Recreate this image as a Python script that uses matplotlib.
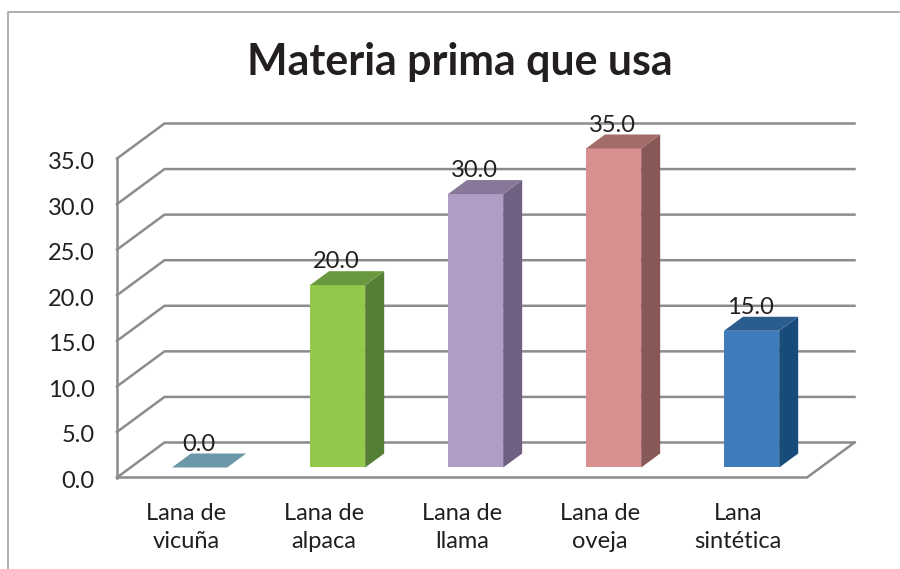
import matplotlib
matplotlib.use("Agg")
import matplotlib.pyplot as plt
from matplotlib.patches import Polygon
from matplotlib.lines import Line2D
from matplotlib.transforms import ScaledTranslation

categories = ["Lana de\nvicuña", "Lana de\nalpaca", "Lana de\nllama", "Lana de\noveja", "Lana\nsintética"]
values = [0.0, 20.0, 30.0, 35.0, 15.0]
y_ticks = [0, 5, 10, 15, 20, 25, 30, 35]
title = "Materia prima que usa"
front_colors = ["#6A98A8", "#92C94A", "#B09CC4", "#D88F90", "#3F7CBB"]
side_colors = ["#567C88", "#567F36", "#6F5F80", "#885856", "#184A7A"]
top_colors = ["#6A98A8", "#6A983E", "#887799", "#A26C68", "#2A5C90"]

W, H = 900, 569
plt.rcParams["font.family"] = ["Lato", "DejaVu Sans"]
fig = plt.figure(figsize=(W / 100, H / 100), dpi=100)
fig.patch.set_facecolor("white")

# axes = front plane of the 3-D box (in pixels)
L, R, B, T = 117, 807, 477.5, 158.5
ax = fig.add_axes([L / W, 1 - B / H, (R - L) / W, (B - T) / H])
ax.set_xlim(0, len(categories))
ax.set_ylim(0, 35)
ax.patch.set_visible(False)
for s in ax.spines.values():
    s.set_visible(False)

# oblique depth vector, data units for depth = 1
DX = 47.5 / ((R - L) / len(categories))
DY = 35.0 / ((B - T) / 35.0)


def proj(x, y, d):
    return (x + DX * d, y + DY * d)


GRID = "#8C8C8C"
LW = 1.8
for v in y_ticks:
    x0, y0 = proj(0, v, 0)
    x1, y1 = proj(0, v, 1)
    x2, y2 = proj(len(categories), v, 1)
    ax.plot([x0, x1, x2], [y0, y1, y2], color=GRID, lw=LW, clip_on=False,
            solid_joinstyle="miter", zorder=1)
# wall front edge and floor front edge
ax.plot([0, 0], [0, 35], color=GRID, lw=LW, clip_on=False, zorder=1)
n = len(categories)
fx = [0, n, proj(n, 0, 1)[0]]
fy = [0, 0, proj(n, 0, 1)[1]]
ax.plot(fx, fy, color=GRID, lw=LW, clip_on=False, zorder=1, solid_joinstyle="miter")

BAR_W = 0.4
D0, D1 = 0.286, 0.686
for i, v in enumerate(values):
    c = i + 0.5
    xl, xr = c - BAR_W / 2, c + BAR_W / 2
    if v > 0:
        front = [proj(xl, 0, D0), proj(xr, 0, D0), proj(xr, v, D0), proj(xl, v, D0)]
        side = [proj(xr, 0, D0), proj(xr, 0, D1), proj(xr, v, D1), proj(xr, v, D0)]
        ax.add_patch(Polygon(side, closed=True, fc=side_colors[i], ec="none", clip_on=False, zorder=3))
        ax.add_patch(Polygon(front, closed=True, fc=front_colors[i], ec="none", clip_on=False, zorder=3))
    top = [proj(xl, v, D0), proj(xr, v, D0), proj(xr, v, D1), proj(xl, v, D1)]
    ax.add_patch(Polygon(top, closed=True, fc=top_colors[i], ec="none", clip_on=False, zorder=3))
    tx, _ = proj(c, v, D0)
    _, ty = proj(c, v, D1)
    ax.annotate(f"{v:.1f}", (tx, ty), xytext=(-0.7, -0.8), textcoords="offset points",
                ha="center", va="bottom", fontsize=17, color="#231F20", zorder=5,
                annotation_clip=False)

ax.set_yticks(y_ticks, [f"{v:.1f}" for v in y_ticks])
ax.set_xticks([i + 0.5 for i in range(n)], categories)
ax.tick_params(axis="y", length=0, pad=16, labelsize=17, labelcolor="#231F20")
ax.tick_params(axis="x", length=0, pad=18, labelsize=17, labelcolor="#231F20")
for t in ax.get_xticklabels():
    t.set_linespacing(1.47)
shift = ScaledTranslation(0, -2 / 100, fig.dpi_scale_trans)
for t in ax.get_yticklabels():
    t.set_transform(t.get_transform() + shift)

fig.text(459.5 / W, 1 - 62 / H, title, ha="center", va="center", fontsize=30.9,
         fontweight="bold", color="#231F20")

# chart frame
FR = "#A0A0A0"
fig.add_artist(Line2D([7.5 / W, 7.5 / W, 1], [0, 1 - 12 / H, 1 - 12 / H],
                      color=FR, lw=1.2, transform=fig.transFigure))

fig.savefig("out.png", dpi=100)
